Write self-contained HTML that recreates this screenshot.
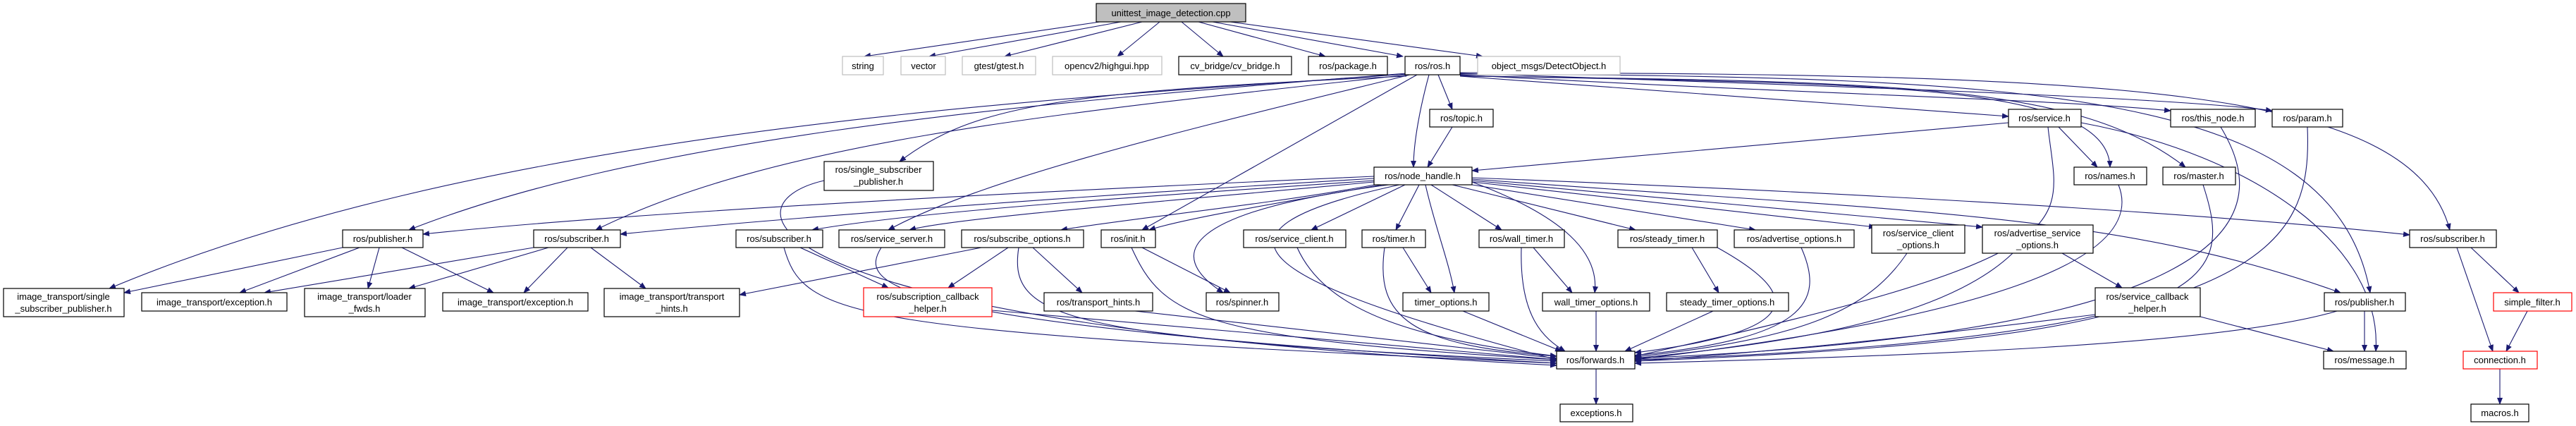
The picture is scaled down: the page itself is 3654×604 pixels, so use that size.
<!DOCTYPE html>
<html><head><meta charset="utf-8"><style>
html,body{margin:0;padding:0;background:#fff;}
svg{display:block;}
text{font-family:"Liberation Sans",sans-serif;font-size:13px;fill:#000;text-anchor:middle;}
.e{fill:none;stroke:#191970;stroke-width:1.1;marker-end:url(#a);}
.n{fill:#fff;stroke:#000;stroke-width:1.2;}
.g{fill:#fff;stroke:#bfbfbf;stroke-width:1.2;}
.r{fill:#fff;stroke:#ff0000;stroke-width:1.2;}
</style></head><body>
<svg width="3654" height="604" viewBox="0 0 3654 604" xmlns="http://www.w3.org/2000/svg">
<defs><marker id="a" markerWidth="10" markerHeight="8" refX="9" refY="4" orient="auto" markerUnits="userSpaceOnUse"><path d="M0,0 L10,4 L0,8 z" fill="#191970"/></marker></defs>
<g>
<!-- cpp edges -->
<path class="e" d="M1560,31 L1226,80"/>
<path class="e" d="M1590,31 L1318,80"/>
<path class="e" d="M1620,31 L1425,80"/>
<path class="e" d="M1645,31 L1585,80"/>
<path class="e" d="M1676,31 L1735,80"/>
<path class="e" d="M1700,31 L1880,80"/>
<path class="e" d="M1720,31 L1990,80"/>
<path class="e" d="M1745,31 L2103,80"/>
<!-- ros.h edges -->
<path class="e" d="M1995,105 C1500,140 700,180 155,409"/>
<path class="e" d="M1995,104 C1400,150 900,200 580,326"/>
<path class="e" d="M1997,106 C1500,160 1100,200 845,326"/>
<path class="e" d="M1995,108 C1500,130 1380,150 1276,229"/>
<path class="e" d="M2000,106 C1700,180 1400,250 1260,326"/>
<path class="e" d="M2010,106 L1620,326"/>
<path class="e" d="M2040,106 L2060,155"/>
<path class="e" d="M2027,106 C2015,150 2005,200 2005,237"/>
<path class="e" d="M2071,108 C2400,130 2700,155 2849,165"/>
<path class="e" d="M2071,106 C2600,135 2900,140 3079,157"/>
<path class="e" d="M2071,104 C2700,125 3100,140 3223,157"/>
<path class="e" d="M2071,107 C2600,120 2990,110 2993,237"/>
<path class="e" d="M2071,108 C2700,115 2950,120 3100,237"/>
<path class="e" d="M2071,105 C2900,108 3310,130 3362,415"/>
<path class="e" d="M2071,103 C3000,105 3420,120 3475,326"/>
<path class="e" d="M2849,174 L2088,242"/>
<path class="e" d="M2060,180 L2025,237"/>
<!-- service etc -->
<path class="e" d="M2920,180 L2975,237"/>
<path class="e" d="M2952,174 C3200,220 3380,350 3370,498"/>
<path class="e" d="M2905,180 C2920,320 2980,360 2319,505"/>
<path class="e" d="M3150,180 C3210,280 3250,470 2319,508"/>
<path class="e" d="M3273,180 C3280,350 3220,480 2319,510"/>
<path class="e" d="M3005,262 C3040,350 2900,440 2319,510"/>
<path class="e" d="M3125,262 C3170,400 3150,480 2319,512"/>
<!-- node_handle -->
<path class="e" d="M1949,250 C1500,270 900,300 600,332"/>
<path class="e" d="M1949,253 C1500,280 1100,310 880,332"/>
<path class="e" d="M1949,256 C1600,280 1300,300 1152,326"/>
<path class="e" d="M1949,258 C1600,290 1350,310 1290,326"/>
<path class="e" d="M1950,262 C1800,290 1600,310 1505,326"/>
<path class="e" d="M1960,262 C1800,290 1680,310 1630,326"/>
<path class="e" d="M1970,262 C1680,300 1650,360 1735,415"/>
<path class="e" d="M1985,262 C1670,330 1790,400 2208,510"/>
<path class="e" d="M1993,262 L1860,326"/>
<path class="e" d="M2013,262 L1980,326"/>
<path class="e" d="M2022,262 C2035,320 2055,370 2063,415"/>
<path class="e" d="M2030,262 L2130,326"/>
<path class="e" d="M2088,258 C2200,300 2270,350 2262,415"/>
<path class="e" d="M2060,262 L2320,326"/>
<path class="e" d="M2088,262 L2490,326"/>
<path class="e" d="M2088,258 L2660,322"/>
<path class="e" d="M2088,256 L2812,322"/>
<path class="e" d="M2088,254 C2700,300 3000,300 3320,415"/>
<path class="e" d="M2088,252 C2800,280 3200,310 3418,333"/>
<!-- row 2 -->
<path class="e" d="M486,351 L176,415"/>
<path class="e" d="M510,351 L340,415"/>
<path class="e" d="M538,351 L522,409"/>
<path class="e" d="M570,351 L700,415"/>
<path class="e" d="M757,351 L375,415"/>
<path class="e" d="M778,351 L580,409"/>
<path class="e" d="M805,351 L743,415"/>
<path class="e" d="M838,351 L916,409"/>
<path class="e" d="M1112,351 C1140,450 1200,470 2208,515"/>
<path class="e" d="M1135,351 L1260,408"/>
<path class="e" d="M1169,256 C1020,290 1060,460 2208,518"/>
<path class="e" d="M1250,351 C1220,400 1230,460 2208,515"/>
<path class="e" d="M1392,351 L1049,418"/>
<path class="e" d="M1430,351 L1345,408"/>
<path class="e" d="M1465,351 L1535,415"/>
<path class="e" d="M1445,351 C1430,450 1500,480 2208,512"/>
<path class="e" d="M1620,351 L1745,415"/>
<path class="e" d="M1605,351 C1650,450 1700,480 2208,510"/>
<path class="e" d="M1407,440 L2208,510"/>
<path class="e" d="M1610,441 L2208,508"/>
<path class="e" d="M1840,351 C1880,440 2000,480 2208,505"/>
<path class="e" d="M1990,351 L2030,415"/>
<path class="e" d="M1964,351 C1950,450 2000,490 2208,505"/>
<path class="e" d="M2075,441 L2215,498"/>
<path class="e" d="M2175,351 L2230,415"/>
<path class="e" d="M2158,351 C2155,450 2190,480 2220,498"/>
<path class="e" d="M2264,441 L2264,498"/>
<path class="e" d="M2400,351 L2438,415"/>
<path class="e" d="M2436,351 C2560,420 2560,470 2319,500"/>
<path class="e" d="M2430,441 L2305,498"/>
<path class="e" d="M2555,351 C2590,430 2560,480 2319,504"/>
<path class="e" d="M2705,359 C2650,440 2560,480 2319,506"/>
<path class="e" d="M2855,359 C2750,460 2500,490 2319,508"/>
<path class="e" d="M2925,359 L3010,408"/>
<path class="e" d="M2972,446 C2700,480 2500,500 2319,512"/>
<path class="e" d="M3121,449 L3310,498"/>
<path class="e" d="M3315,441 C3150,490 2700,505 2319,515"/>
<path class="e" d="M3354,441 L3354,498"/>
<path class="e" d="M3505,351 L3573,415"/>
<path class="e" d="M3485,351 L3536,498"/>
<path class="e" d="M3585,441 L3555,498"/>
<path class="e" d="M3546,523 L3546,573"/>
<path class="e" d="M2264,523 L2264,573"/>
</g>
<g>
<rect x="1555" y="5" width="212" height="26" fill="#bfbfbf" stroke="#000" stroke-width="1.2"/><text x="1661" y="23">unittest_image_detection.cpp</text>
<rect class="g" x="1195" y="80" width="58" height="26"/><text x="1224" y="98">string</text>
<rect class="g" x="1278" y="80" width="63" height="26"/><text x="1310" y="98">vector</text>
<rect class="g" x="1365" y="80" width="104" height="26"/><text x="1417" y="98">gtest/gtest.h</text>
<rect class="g" x="1493" y="80" width="155" height="26"/><text x="1570" y="98">opencv2/highgui.hpp</text>
<rect class="n" x="1672" y="80" width="160" height="26"/><text x="1752" y="98">cv_bridge/cv_bridge.h</text>
<rect class="n" x="1856" y="80" width="112" height="26"/><text x="1912" y="98">ros/package.h</text>
<rect class="n" x="1993" y="80" width="78" height="26"/><text x="2032" y="98">ros/ros.h</text>
<rect class="g" x="2096" y="80" width="202" height="26"/><text x="2197" y="98">object_msgs/DetectObject.h</text>
<rect class="n" x="2028" y="155" width="90" height="25"/><text x="2073" y="172">ros/topic.h</text>
<rect class="n" x="2849" y="155" width="103" height="25"/><text x="2900" y="172">ros/service.h</text>
<rect class="n" x="3079" y="155" width="120" height="25"/><text x="3139" y="172">ros/this_node.h</text>
<rect class="n" x="3223" y="155" width="100" height="25"/><text x="3273" y="172">ros/param.h</text>
<rect class="n" x="1169" y="229" width="155" height="41"/><text x="1246" y="245">ros/single_subscriber</text><text x="1246" y="262">_publisher.h</text>
<rect class="n" x="1949" y="237" width="139" height="25"/><text x="2018" y="254">ros/node_handle.h</text>
<rect class="n" x="2942" y="237" width="103" height="25"/><text x="2993" y="254">ros/names.h</text>
<rect class="n" x="3068" y="237" width="103" height="25"/><text x="3119" y="254">ros/master.h</text>
<rect class="n" x="486" y="326" width="114" height="25"/><text x="543" y="343">ros/publisher.h</text>
<rect class="n" x="757" y="326" width="123" height="25"/><text x="818" y="343">ros/subscriber.h</text>
<rect class="n" x="1044" y="326" width="123" height="25"/><text x="1105" y="343">ros/subscriber.h</text>
<rect class="n" x="1190" y="326" width="150" height="25"/><text x="1265" y="343">ros/service_server.h</text>
<rect class="n" x="1364" y="326" width="173" height="25"/><text x="1450" y="343">ros/subscribe_options.h</text>
<rect class="n" x="1562" y="326" width="77" height="25"/><text x="1600" y="343">ros/init.h</text>
<rect class="n" x="1764" y="326" width="145" height="25"/><text x="1836" y="343">ros/service_client.h</text>
<rect class="n" x="1932" y="326" width="90" height="25"/><text x="1977" y="343">ros/timer.h</text>
<rect class="n" x="2098" y="326" width="121" height="25"/><text x="2158" y="343">ros/wall_timer.h</text>
<rect class="n" x="2295" y="326" width="141" height="25"/><text x="2365" y="343">ros/steady_timer.h</text>
<rect class="n" x="2460" y="326" width="170" height="25"/><text x="2545" y="343">ros/advertise_options.h</text>
<rect class="n" x="2655" y="319" width="132" height="40"/><text x="2721" y="335">ros/service_client</text><text x="2721" y="352">_options.h</text>
<rect class="n" x="2812" y="319" width="157" height="40"/><text x="2890" y="335">ros/advertise_service</text><text x="2890" y="352">_options.h</text>
<rect class="n" x="3418" y="326" width="123" height="25"/><text x="3479" y="343">ros/subscriber.h</text>
<rect class="n" x="5" y="409" width="171" height="40"/><text x="90" y="425">image_transport/single</text><text x="90" y="442">_subscriber_publisher.h</text>
<rect class="n" x="201" y="415" width="206" height="26"/><text x="304" y="433">image_transport/exception.h</text>
<rect class="n" x="432" y="409" width="171" height="40"/><text x="517" y="425">image_transport/loader</text><text x="517" y="442">_fwds.h</text>
<rect class="n" x="628" y="415" width="206" height="26"/><text x="731" y="433">image_transport/exception.h</text>
<rect class="n" x="857" y="409" width="192" height="40"/><text x="953" y="425">image_transport/transport</text><text x="953" y="442">_hints.h</text>
<rect class="r" x="1225" y="408" width="182" height="41"/><text x="1316" y="425">ros/subscription_callback</text><text x="1316" y="442">_helper.h</text>
<rect class="n" x="1481" y="415" width="154" height="26"/><text x="1558" y="433">ros/transport_hints.h</text>
<rect class="n" x="1711" y="415" width="103" height="26"/><text x="1762" y="433">ros/spinner.h</text>
<rect class="n" x="1990" y="415" width="122" height="26"/><text x="2051" y="433">timer_options.h</text>
<rect class="n" x="2188" y="415" width="152" height="26"/><text x="2264" y="433">wall_timer_options.h</text>
<rect class="n" x="2364" y="415" width="173" height="26"/><text x="2450" y="433">steady_timer_options.h</text>
<rect class="n" x="2972" y="408" width="149" height="41"/><text x="3046" y="425">ros/service_callback</text><text x="3046" y="442">_helper.h</text>
<rect class="n" x="3297" y="415" width="115" height="26"/><text x="3354" y="433">ros/publisher.h</text>
<rect class="r" x="3537" y="415" width="111" height="26"/><text x="3592" y="433">simple_filter.h</text>
<rect class="n" x="2208" y="498" width="111" height="25"/><text x="2263" y="515">ros/forwards.h</text>
<rect class="n" x="3296" y="498" width="117" height="25"/><text x="3354" y="515">ros/message.h</text>
<rect class="r" x="3494" y="498" width="105" height="25"/><text x="3546" y="515">connection.h</text>
<rect class="n" x="2213" y="573" width="103" height="25"/><text x="2264" y="590">exceptions.h</text>
<rect class="n" x="3505" y="573" width="82" height="25"/><text x="3546" y="590">macros.h</text>
</g>
</svg>
</body></html>
